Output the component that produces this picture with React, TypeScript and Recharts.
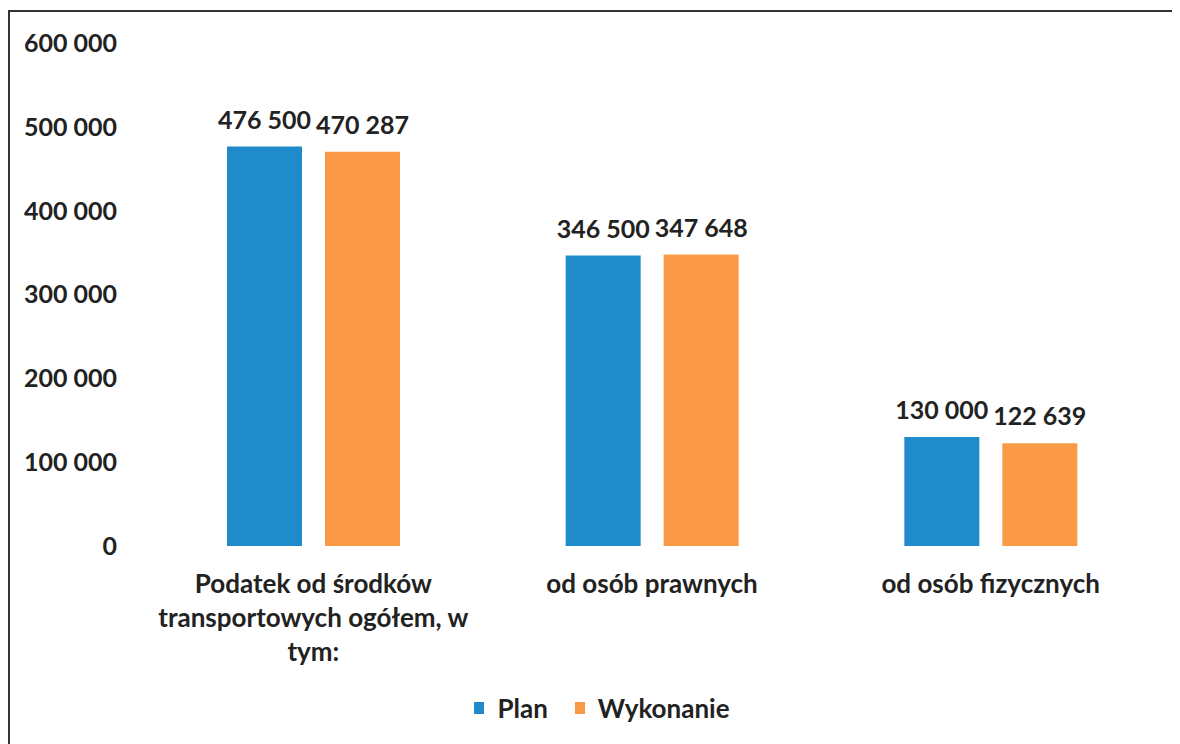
import React from 'react';
import { BarChart, Bar, XAxis, YAxis, LabelList, Legend } from 'recharts';

const categories = [
  'Podatek od środków\ntransportowych ogółem, w\ntym:',
  'od osób prawnych',
  'od osób fizycznych',
];
const planValues = [476500, 346500, 130000];
const wykonanieValues = [470287, 347648, 122639];
const yTicks = [0, 100000, 200000, 300000, 400000, 500000, 600000];

const data = categories.map((name, i) => ({
  name,
  plan: planValues[i],
  wykonanie: wykonanieValues[i],
}));

const BLUE = '#1f8bcb';
const ORANGE = '#fb9a46';
const TEXT = '#222222';
const FONT = 'Lato, "Open Sans", sans-serif';

const fmt = (v: number) => String(v).replace(/\B(?=(\d{3})+(?!\d))/g, ' ');

const CategoryTick = (props: any) => {
  const { x, y, payload } = props;
  const lines = String(payload.value).split('\n');
  return (
    <text
      x={x}
      y={y}
      textAnchor="middle"
      fill={TEXT}
      fontSize={26}
      fontWeight={700}
      fontFamily={FONT}
    >
      {lines.map((l, i) => (
        <tspan key={i} x={x} dy={i === 0 ? 39 : 34}>
          {l}
        </tspan>
      ))}
    </text>
  );
};

const LegendContent = (props: any) => {
  const { payload } = props;
  return (
    <div
      style={{
        height: 30,
        display: 'flex',
        justifyContent: 'center',
        alignItems: 'center',
        fontFamily: FONT,
        fontWeight: 700,
        fontSize: 26,
        color: TEXT,
        paddingLeft: 36,
      }}
    >
      {(payload || []).map((p: any, i: number) => (
        <div key={i} style={{ display: 'flex', alignItems: 'center', marginRight: i === 0 ? 27 : 0 }}>
          <span
            style={{
              display: 'inline-block',
              width: 10,
              height: 12,
              background: p.color,
              marginRight: 13,
            }}
          />
          <span>{p.value}</span>
        </div>
      ))}
    </div>
  );
};

export default function App() {
  return (
    <div style={{ position: 'relative', width: 1172, height: 736, background: '#fff' }}>
      <div style={{ position: 'absolute', left: 0, top: 0 }}>
        <BarChart
          width={1172}
          height={736}
          data={data}
          margin={{ top: 35, right: 20, left: 0, bottom: 21 }}
          barGap={23}
          barSize={75}
        >
          <XAxis
            dataKey="name"
            axisLine={false}
            tickLine={false}
            height={147}
            interval={0}
            tick={<CategoryTick />}
          />
          <YAxis
            width={136}
            domain={[0, 600000]}
            ticks={yTicks}
            axisLine={false}
            tickLine={false}
            tickSize={0}
            tickMargin={27}
            tickFormatter={fmt}
            tick={{ fill: TEXT, fontSize: 25, fontWeight: 700, fontFamily: FONT }}
          />
          <Legend verticalAlign="bottom" content={<LegendContent />} />
          <Bar dataKey="plan" name="Plan" fill={BLUE} isAnimationActive={false}>
            <LabelList
              dataKey="plan"
              position="top"
              offset={18}
              formatter={(v: any) => fmt(v)}
              style={{ fill: TEXT, fontSize: 25, fontWeight: 700, fontFamily: FONT }}
            />
          </Bar>
          <Bar dataKey="wykonanie" name="Wykonanie" fill={ORANGE} isAnimationActive={false}>
            <LabelList
              dataKey="wykonanie"
              position="top"
              offset={18}
              formatter={(v: any) => fmt(v)}
              style={{ fill: TEXT, fontSize: 25, fontWeight: 700, fontFamily: FONT }}
            />
          </Bar>
        </BarChart>
      </div>
      <div
        style={{
          position: 'absolute',
          left: 0,
          top: 2,
          width: 2,
          height: 734,
          background: '#333',
          zIndex: 10,
        }}
      />
      <div
        style={{
          position: 'absolute',
          left: 0,
          top: 2,
          width: 1172,
          height: 2,
          background: '#333',
          zIndex: 10,
        }}
      />
    </div>
  );
}
